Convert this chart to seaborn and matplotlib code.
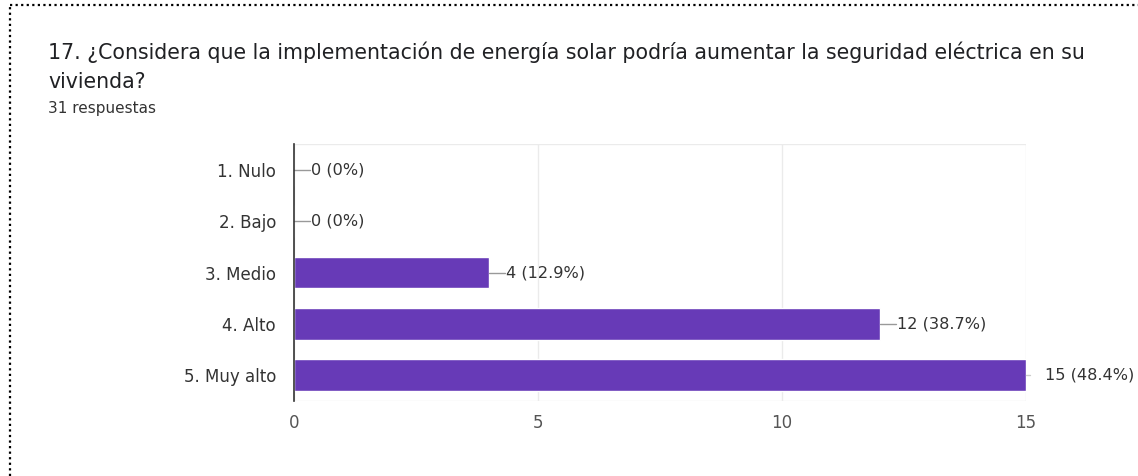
import matplotlib
matplotlib.use("Agg")
import matplotlib.pyplot as plt
from matplotlib.lines import Line2D
import seaborn as sns
import pandas as pd

categories = ["1. Nulo", "2. Bajo", "3. Medio", "4. Alto", "5. Muy alto"]
counts = [0, 0, 4, 12, 15]
percent_labels = ["0%", "0%", "12.9%", "38.7%", "48.4%"]
x_ticks = [0, 5, 10, 15]

title_line1 = "17. ¿Considera que la implementación de energía solar podría aumentar la seguridad eléctrica en su"
title_line2 = "vivienda?"
subtitle = "31 respuestas"

df = pd.DataFrame({"categoria": categories, "respuestas": counts})

sns.set_theme(style="white")
plt.rcParams["font.family"] = ["DejaVu Sans"]

W, H = 1138, 476
fig = plt.figure(figsize=(W / 100, H / 100), dpi=100)
fig.patch.set_facecolor("white")

# plot area in pixel coordinates
left, right, top, bottom = 294, 1026, 144, 401
ax = fig.add_axes([left / W, 1 - bottom / H, (right - left) / W, (bottom - top) / H])

purple = "#673AB7"
sns.barplot(data=df, y="categoria", x="respuestas", orient="h", color=purple,
            width=0.62, saturation=1, ax=ax, order=categories)

ax.set_xlim(0, 15)
ax.set_ylim(4.5, -0.5)
ax.set_xticks(x_ticks)
ax.set_xticklabels([str(t) for t in x_ticks])
ax.set_xlabel("")
ax.set_ylabel("")
ax.grid(axis="x", color="#ebebeb", linewidth=1)
ax.grid(axis="y", visible=False)
ax.set_axisbelow(True)
for s in ["top", "right", "bottom"]:
    ax.spines[s].set_visible(False)
ax.spines["left"].set_color("#333333")
ax.spines["left"].set_linewidth(1.2)
ax.axhline(4.5, color="#ebebeb", linewidth=1, zorder=0)
ax.axhline(-0.5, color="#ebebeb", linewidth=1, zorder=0)
ax.tick_params(axis="x", length=0, pad=9, labelsize=12, labelcolor="#555555")
ax.tick_params(axis="y", length=0, pad=13, labelsize=12, labelcolor="#333333")

# value annotations with short leader lines
px = 15 / (right - left)
for i, (c, p) in enumerate(zip(counts, percent_labels)):
    txt = f"{c} ({p})"
    if c >= 15:
        ax.plot([c, c + 4 * px], [i, i], color="#cccccc", lw=1, clip_on=False)
        ax.text(c + 19 * px, i, txt, va="center", ha="left", fontsize=11.6,
                color="#333333", clip_on=False)
    else:
        ax.plot([c, c + 16 * px], [i, i], color="#999999", lw=1, clip_on=False)
        ax.text(c + 17 * px, i, txt, va="center", ha="left", fontsize=11.6,
                color="#333333", clip_on=False)

# title block
fig.text(48 / W, 1 - 52 / H, title_line1, fontsize=14.8, color="#202124",
         va="center", ha="left")
fig.text(48 / W, 1 - 82 / H, title_line2, fontsize=14.8, color="#202124",
         va="center", ha="left")
fig.text(48 / W, 1 - 108 / H, subtitle, fontsize=11, color="#333333",
         va="center", ha="left")

# dotted frame along the top and left edges
fig.add_artist(Line2D([10 / W, 1], [1 - 5 / H, 1 - 5 / H], transform=fig.transFigure,
                      color="black", lw=1.6, linestyle=(0, (1, 1.5))))
fig.add_artist(Line2D([10 / W, 10 / W], [0, 1 - 5 / H], transform=fig.transFigure,
                      color="black", lw=1.6, linestyle=(0, (1, 1.5))))

fig.savefig("out.png", dpi=100, facecolor="white")
